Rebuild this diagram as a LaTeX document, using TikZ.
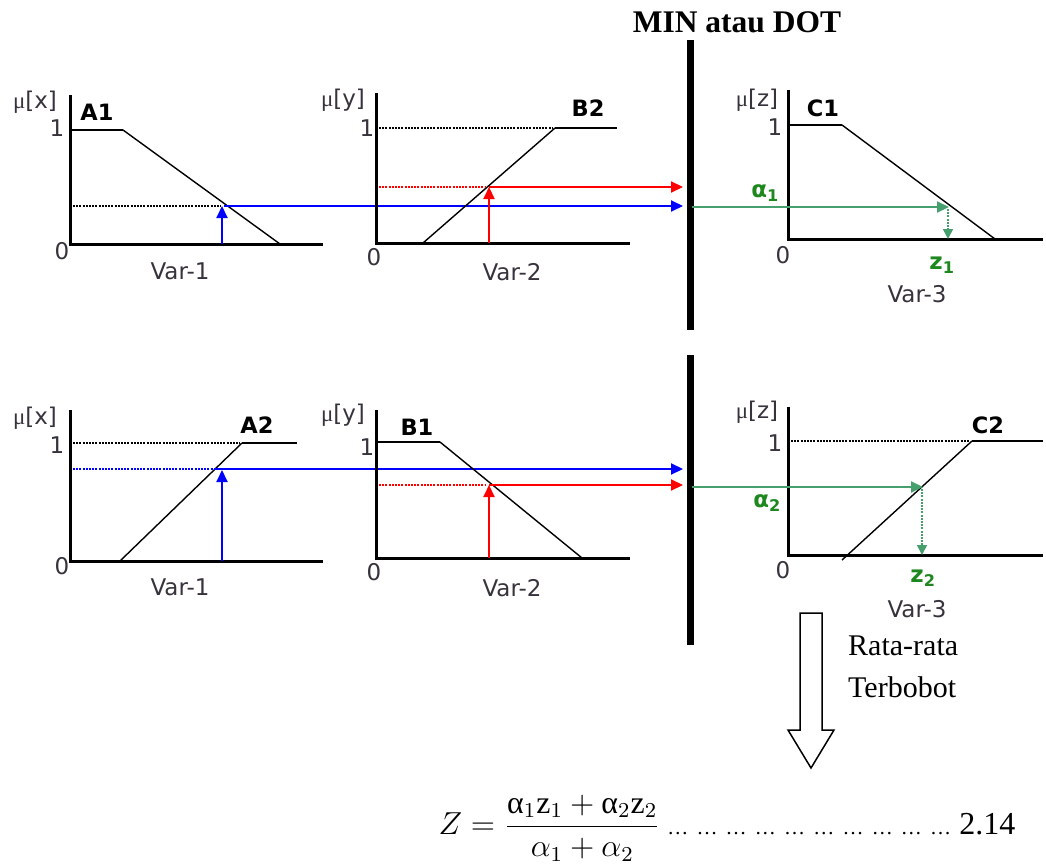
\documentclass[tikz,border=0pt]{standalone}
\usepackage{fontspec}
\setmainfont{Liberation Serif}
\newfontfamily\lab{DejaVu Sans}
\usetikzlibrary{arrows.meta}
\definecolor{arrgreen}{RGB}{70,160,110}
\definecolor{lblgreen}{RGB}{30,135,30}
\definecolor{lblgray}{RGB}{55,50,60}
\newcommand\dotgrp{\makebox[29.2pt][l]{\fontsize{21}{21}\selectfont …}}
\tikzset{
  axisline/.style={line width=3pt, line join=miter},
  plateau/.style={line width=2.6pt},
  slopeline/.style={line width=1.4pt},
  dotline/.style={line width=2pt, dash pattern=on 2pt off 1.2pt},
  bluearr/.style={blue, line width=2pt, -{Triangle[length=12pt,width=11pt]}},
  redarr/.style={red, line width=2pt, -{Triangle[length=12pt,width=11pt]}},
  greenarr/.style={arrgreen, line width=2pt, -{Triangle[length=12pt,width=11pt]}},
  greendot/.style={arrgreen, line width=1.6pt, dash pattern=on 2pt off 1.2pt, -{Triangle[length=10pt,width=10pt]}},
  bar/.style={line width=7pt},
  axlab/.style={text=lblgray, font=\lab\fontsize{23}{23}\selectfont, inner sep=0pt},
  setlab/.style={font=\lab\bfseries\fontsize{22.5}{22.5}\selectfont, inner sep=0pt},
  greenlab/.style={text=lblgreen, font=\lab\bfseries\fontsize{23}{23}\selectfont, inner sep=0pt},
  serif/.style={font=\fontsize{30}{36}\selectfont, inner sep=0pt}
}
\begin{document}
\begin{tikzpicture}[x=1pt,y=-1pt]
\useasboundingbox (0,0) rectangle (1046,864);

% ---------- title and bars ----------
\node[font=\bfseries\fontsize{31.5}{36}\selectfont, inner sep=0pt] (title) at (737,22) {MIN atau DOT};
\coordinate (bar1t) at (690,40); \coordinate (bar1b) at (690,330);
\coordinate (bar2t) at (690,355); \coordinate (bar2b) at (690,645);
\draw[bar] (bar1t) -- (bar1b);
\draw[bar] (bar2t) -- (bar2b);

% ================= TOP ROW =================
% A1
\draw[axisline] (70,95) -- (70,244) -- (323,244);
\draw[plateau] (70,130) -- (123,130);
\draw[slopeline] (123,130) -- (280,244);
\draw[dotline] (73,206) -- (221,206);
\coordinate (a1b) at (222,244); \coordinate (a1t) at (222,206);
\coordinate (a1s) at (224,206); \coordinate (barA) at (683,206);
\draw[bluearr] (a1b) -- (a1t);
\draw[bluearr] (a1s) -- (barA);
\node[axlab] (mux1) at (35,102) {{\rmfamily μ}[x]};
\node[setlab] (A1) at (97,112) {A1};
\node[axlab] (one1) at (57,128) {1};
\node[axlab] (zero1) at (62,251) {0};
\node[axlab] (var1a) at (180,271) {Var-1};

% B2
\draw[axisline] (376,93) -- (376,243) -- (630,243);
\draw[slopeline] (423,243) -- (555,128);
\draw[plateau] (555,128) -- (617,128);
\draw[dotline] (379,128) -- (553,128);
\draw[dotline, red] (379,187) -- (485,187);
\coordinate (b2b) at (489,243); \coordinate (b2t) at (489,187);
\coordinate (barB) at (683,187);
\draw[redarr] (b2b) -- (b2t);
\draw[redarr] (b2t) -- (barB);
\node[axlab] (muy1) at (343,100) {{\rmfamily μ}[y]};
\node[setlab] (B2) at (588,108) {B2};
\node[axlab] (one2) at (367,128) {1};
\node[axlab] (zero2) at (374,257) {0};
\node[axlab] (var2a) at (512,272) {Var-2};

% C1
\draw[axisline] (788,90) -- (788,239) -- (1043,239);
\draw[plateau] (788,125) -- (842,125);
\draw[slopeline] (842,125) -- (995,239);
\coordinate (g1s) at (692,207); \coordinate (g1e) at (949,207);
\coordinate (z1t) at (948,209); \coordinate (z1b) at (948,239);
\draw[greenarr] (g1s) -- (g1e);
\draw[greendot] (z1t) -- (z1b);
\node[axlab] (muz1) at (757,100) {{\rmfamily μ}[z]};
\node[setlab] (C1) at (823,108) {C1};
\node[axlab] (one3) at (775,127) {1};
\node[axlab] (zero3) at (783,255) {0};
\node[greenlab] (alpha1) at (765,193) {α\textsubscript{1}};
\node[greenlab] (z1) at (942,265) {z\textsubscript{1}};
\node[axlab] (var3a) at (917,294) {Var-3};

% ================= BOTTOM ROW =================
% A2
\draw[axisline] (70,410) -- (70,561) -- (323,561);
\draw[slopeline] (120,561) -- (242,443);
\draw[plateau] (242,443) -- (297,443);
\draw[dotline] (73,443) -- (240,443);
\draw[dotline, blue] (73,469) -- (216,469);
\coordinate (a2b) at (222,561); \coordinate (a2t) at (222,470);
\coordinate (a2s) at (216,469); \coordinate (barC) at (683,469);
\draw[bluearr] (a2b) -- (a2t);
\draw[bluearr] (a2s) -- (barC);
\node[axlab] (mux2) at (35,418) {{\rmfamily μ}[x]};
\node[setlab] (A2) at (257,425) {A2};
\node[axlab] (one4) at (57,445) {1};
\node[axlab] (zero4) at (62,566) {0};
\node[axlab] (var1b) at (180,587) {Var-1};

% B1
\draw[axisline] (376,410) -- (376,558) -- (630,558);
\draw[plateau] (376,442) -- (440,442);
\draw[slopeline] (440,442) -- (582,558);
\draw[dotline, red] (379,485) -- (486,485);
\coordinate (b1b) at (489,558); \coordinate (b1t) at (489,485);
\coordinate (barD) at (683,485);
\draw[redarr] (b1b) -- (b1t);
\draw[redarr] (b1t) -- (barD);
\node[axlab] (muy2) at (343,415) {{\rmfamily μ}[y]};
\node[setlab] (B1) at (417,427) {B1};
\node[axlab] (one5) at (367,447) {1};
\node[axlab] (zero5) at (374,572) {0};
\node[axlab] (var2b) at (512,588) {Var-2};

% C2
\draw[axisline] (788,407) -- (788,555) -- (1043,555);
\draw[slopeline] (842,560) -- (972,441);
\draw[plateau] (972,441) -- (1043,441);
\draw[dotline] (791,441) -- (970,441);
\coordinate (g2s) at (692,487); \coordinate (g2e) at (923,487);
\coordinate (z2t) at (922,489); \coordinate (z2b) at (922,555);
\draw[greenarr] (g2s) -- (g2e);
\draw[greendot] (z2t) -- (z2b);
\node[axlab] (muz2) at (757,412) {{\rmfamily μ}[z]};
\node[setlab] (C2) at (988,425) {C2};
\node[axlab] (one6) at (775,443) {1};
\node[axlab] (zero6) at (783,570) {0};
\node[greenlab] (alpha2) at (767,503) {α\textsubscript{2}};
\node[greenlab] (z2) at (923,578) {z\textsubscript{2}};
\node[axlab] (var3b) at (917,609) {Var-3};

% ---------- block arrow and caption ----------
\draw[line width=1.5pt, line join=miter] (800,613) -- (822,613) -- (822,730) -- (834,730) -- (811,768) -- (788,730) -- (800,730) -- cycle;
\node[serif, anchor=base west] (rata) at (848,655) {Rata-rata};
\node[serif, anchor=base west] (terb) at (848,697) {Terbobot};

% ---------- formula ----------
\node[font=\fontsize{12}{14}\selectfont, inner sep=0pt, anchor=west, scale=2.65] (formula) at (438,828)
  {$Z=\displaystyle\frac{\mbox{α}_1\mathrm{z}_1+\mbox{α}_2\mathrm{z}_2}{\alpha_1+\alpha_2}$};
\node[font=\fontsize{32}{36}\selectfont, inner sep=0pt, anchor=base west] (dots) at ([xshift=6pt]formula.base east)
  {\dotgrp\dotgrp\dotgrp\dotgrp\dotgrp\dotgrp\dotgrp\dotgrp\dotgrp\dotgrp 2.14};
\end{tikzpicture}
\end{document}
